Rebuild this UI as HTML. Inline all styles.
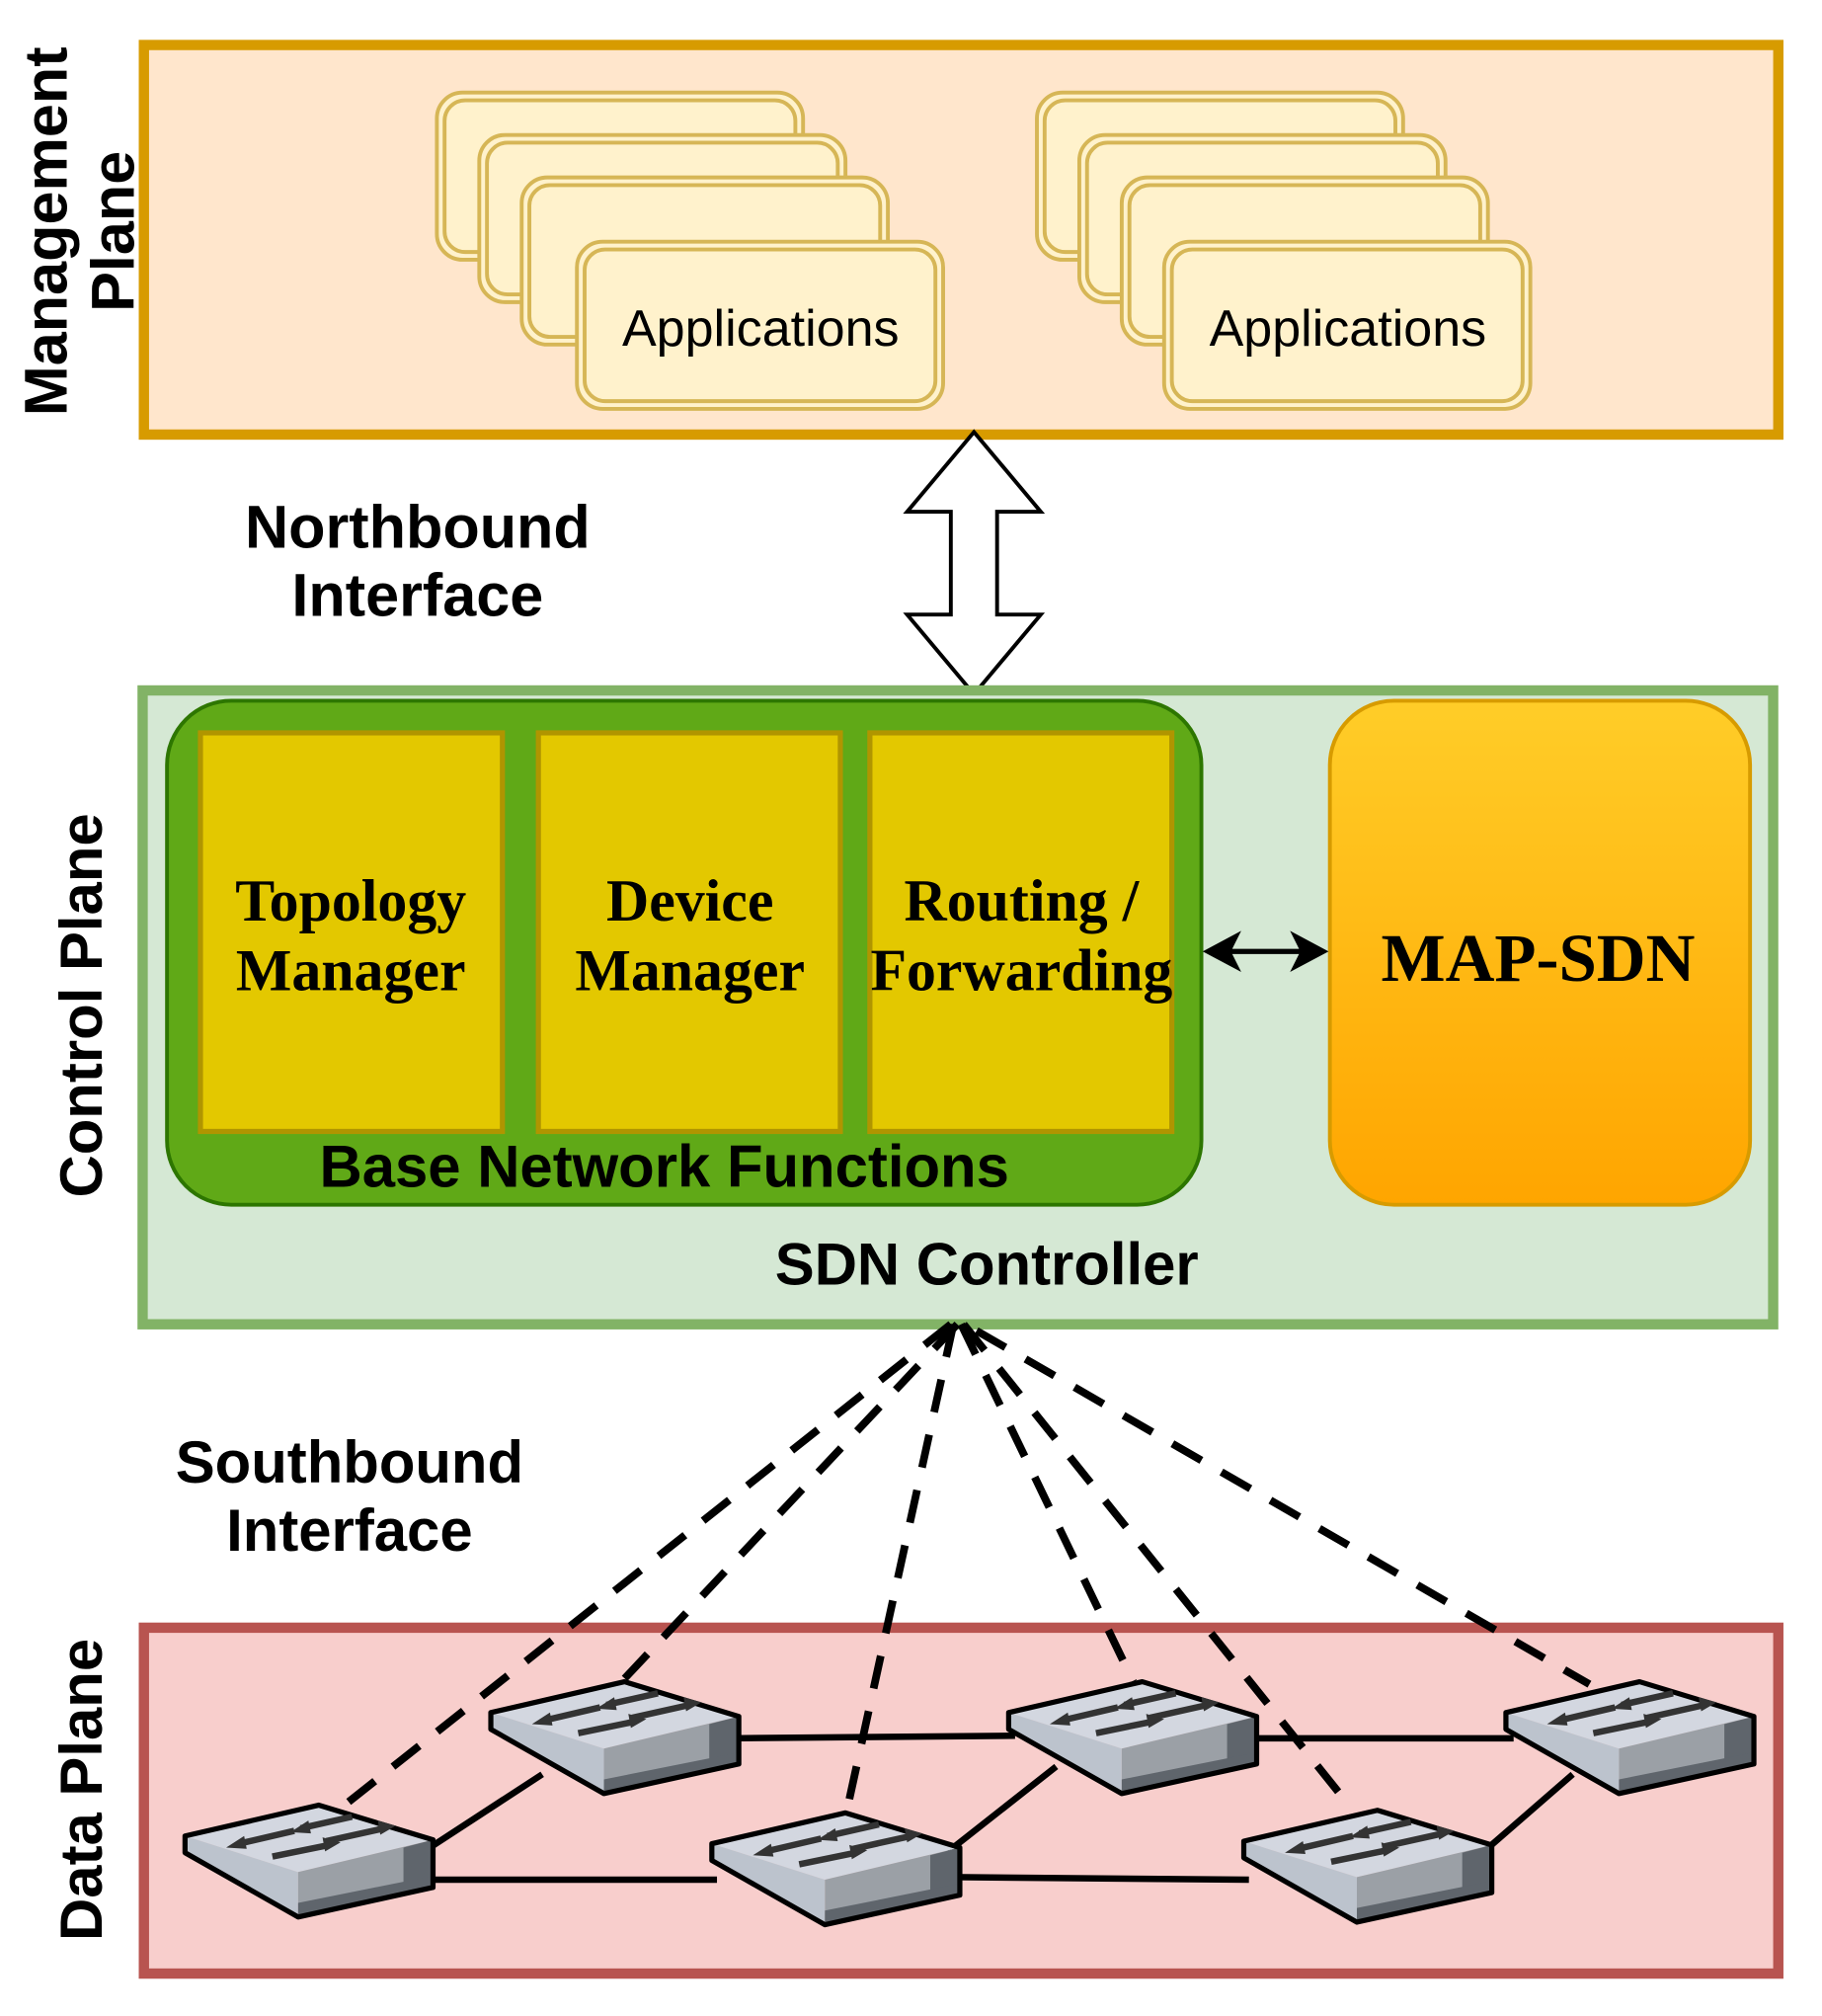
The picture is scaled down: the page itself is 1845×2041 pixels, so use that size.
<!DOCTYPE html>
<html><head><meta charset="utf-8"><style>
html,body{margin:0;padding:0;background:#fff;}
svg{display:block;}
.sans{font-family:"Liberation Sans",Arial,sans-serif;}
.serif{font-family:"Liberation Serif","Times New Roman",serif;}
</style></head><body>
<svg width="1845" height="2041" viewBox="0 0 1418 1568" preserveAspectRatio="none" xmlns="http://www.w3.org/2000/svg">
<defs>
<linearGradient id="mg" x1="0" y1="0" x2="0" y2="1"><stop offset="0" stop-color="#ffcd28"/><stop offset="1" stop-color="#ffa500"/></linearGradient>
<g id="app">
<rect x="0" y="0" width="285" height="130" rx="20" fill="#fff2cc" stroke="#d6b656" stroke-width="3"/>
<rect x="6" y="6" width="273" height="118" rx="16" fill="#fff2cc" stroke="#d6b656" stroke-width="3"/>
</g>
<g id="sw">
<polygon points="0,24 104,0 193,27 88,52" fill="#d3d7e0"/>
<polygon points="0,24 88,52 88,87 0,37" fill="#bcc3cd"/>
<polygon points="88,52 193,27 193,64 88,87" fill="#9ba0a6"/>
<polygon points="170,33 193,27 193,64 170,70" fill="#5f656c"/>
<polygon points="88,76 193,55 193,64 88,87" fill="#5f656c"/>
<polygon points="0,24 104,0 193,27 193,64 88,87 0,37" fill="none" stroke="#000" stroke-width="4" stroke-linejoin="round"/>
<g stroke="#333" stroke-width="5">
<line x1="42" y1="30" x2="85" y2="20"/><line x1="90" y1="18" x2="130" y2="9"/>
<line x1="110" y1="28" x2="155" y2="18"/><line x1="68" y1="40" x2="112" y2="31"/>
</g>
<g fill="#333">
<polygon points="32,33 46,24 48,34"/><polygon points="82,21 96,12 98,22"/>
<polygon points="164,16 150,12 152,23"/><polygon points="121,29 107,25 109,36"/>
</g>
</g>
</defs>

<!-- Management plane -->
<rect x="112" y="35" width="1272" height="303" fill="#ffe6cc" stroke="#d79b00" stroke-width="8"/>
<text class="sans" font-weight="bold" font-size="47" text-anchor="middle" transform="translate(52,180) rotate(-90)">Management</text>
<text class="sans" font-weight="bold" font-size="47" text-anchor="middle" transform="translate(104,180) rotate(-90)">Plane</text>
<use href="#app" x="340" y="72"/><use href="#app" x="373" y="105"/><use href="#app" x="406" y="138"/><use href="#app" x="449" y="188"/>
<use href="#app" x="807" y="72"/><use href="#app" x="840" y="105"/><use href="#app" x="873" y="138"/><use href="#app" x="906" y="188"/>
<text class="sans" font-size="40" text-anchor="middle" x="592" y="269">Applications</text>
<text class="sans" font-size="40" text-anchor="middle" x="1049" y="269">Applications</text>

<!-- Northbound arrow -->
<polygon points="758,336 810,398 776,398 776,478 810,478 758,540 706,478 740,478 740,398 706,398" fill="#fff" stroke="#000" stroke-width="3"/>
<text class="sans" font-weight="bold" font-size="47" text-anchor="middle" x="325" y="426">Northbound</text>
<text class="sans" font-weight="bold" font-size="47" text-anchor="middle" x="325" y="479">Interface</text>

<!-- Control plane -->
<rect x="111" y="537" width="1269" height="493" fill="#d5e8d4" stroke="#82b366" stroke-width="8"/>
<text class="sans" font-weight="bold" font-size="46" text-anchor="middle" transform="translate(79,782) rotate(-90)">Control Plane</text>
<rect x="130" y="545" width="805" height="392" rx="50" fill="#60a917" stroke="#2d7600" stroke-width="3"/>
<rect x="156" y="570" width="235" height="310" fill="#e3c800" stroke="#b09500" stroke-width="4"/>
<rect x="419" y="570" width="235" height="310" fill="#e3c800" stroke="#b09500" stroke-width="4"/>
<rect x="677" y="570" width="235" height="310" fill="#e3c800" stroke="#b09500" stroke-width="4"/>
<g class="serif" font-weight="bold" font-size="46" text-anchor="middle">
<text x="273" y="716">Topology</text><text x="273" y="770">Manager</text>
<text x="537" y="716">Device</text><text x="537" y="770">Manager</text>
<text x="795" y="716">Routing /</text><text x="795" y="770">Forwarding</text>
</g>
<text class="sans" font-weight="bold" font-size="46" text-anchor="middle" x="517" y="923">Base Network Functions</text>
<rect x="1035" y="545" width="327" height="392" rx="50" fill="url(#mg)" stroke="#d79b00" stroke-width="3"/>
<text class="serif" font-weight="bold" font-size="53" text-anchor="middle" x="1197" y="763">MAP-SDN</text>
<line x1="950" y1="740" x2="1020" y2="740" stroke="#000" stroke-width="4"/>
<polygon points="936,740 966,724 958,740 966,756"/>
<polygon points="1034,740 1004,724 1012,740 1004,756"/>
<text class="sans" font-weight="bold" font-size="46" text-anchor="middle" x="768" y="999">SDN Controller</text>

<!-- Southbound -->
<text class="sans" font-weight="bold" font-size="46" text-anchor="middle" x="272" y="1153">Southbound</text>
<text class="sans" font-weight="bold" font-size="46" text-anchor="middle" x="272" y="1206">Interface</text>

<!-- Data plane -->
<rect x="112" y="1266" width="1272" height="269" fill="#f8cecc" stroke="#b85450" stroke-width="8"/>
<text class="sans" font-weight="bold" font-size="46" text-anchor="middle" transform="translate(79,1392) rotate(-90)">Data Plane</text>

<!-- dashed lines -->
<g stroke="#000" stroke-width="6" stroke-dasharray="26,18" fill="none">
<line x1="740" y1="1030" x2="258" y2="1412"/>
<line x1="745" y1="1030" x2="480" y2="1312"/>
<line x1="742" y1="1030" x2="660" y2="1404"/>
<line x1="748" y1="1030" x2="882" y2="1308"/>
<line x1="750" y1="1030" x2="1045" y2="1398"/>
<line x1="760" y1="1035" x2="1237" y2="1310"/>
</g>
<!-- solid links -->
<g stroke="#000" stroke-width="5">
<line x1="330" y1="1440" x2="422" y2="1380"/>
<line x1="325" y1="1462" x2="558" y2="1462"/>
<line x1="570" y1="1352" x2="790" y2="1350"/>
<line x1="738" y1="1440" x2="822" y2="1374"/>
<line x1="742" y1="1460" x2="972" y2="1462"/>
<line x1="972" y1="1352" x2="1178" y2="1352"/>
<line x1="1155" y1="1440" x2="1224" y2="1380"/>
</g>
<use href="#sw" x="144" y="1404"/>
<use href="#sw" x="382" y="1308"/>
<use href="#sw" x="554" y="1410"/>
<use href="#sw" x="785" y="1308"/>
<use href="#sw" x="968" y="1408"/>
<use href="#sw" x="1172" y="1308"/>
</svg>
</body></html>
